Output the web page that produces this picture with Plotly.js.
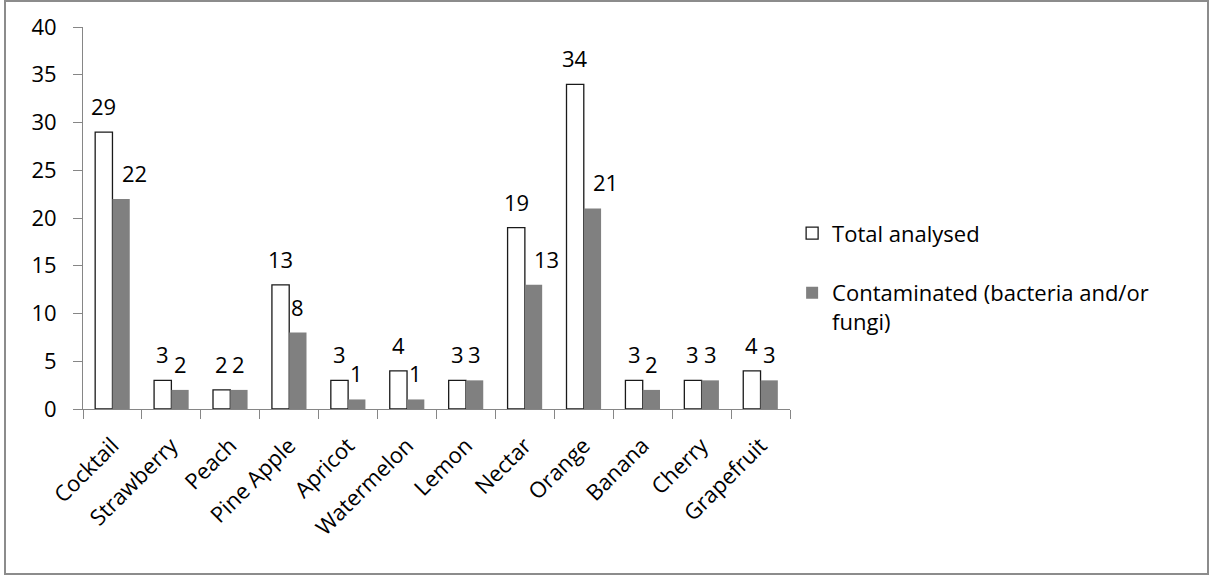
<!DOCTYPE html>
<html>
<head>
<meta charset="utf-8">
<script src="https://cdn.plot.ly/plotly-3.0.1.min.js"></script>
<style>
  html, body { margin: 0; padding: 0; background: #fff; }
  #chart { width: 1209px; height: 575px; }
  #frame { position: absolute; left: 4px; top: 0px; width: 1201px; height: 571px;
           border: 2px solid #8c8c8c; pointer-events: none; }
</style>
</head>
<body>
<div id="chart"></div>
<div id="frame"></div>
<script>
const categories = ["Cocktail","Strawberry","Peach","Pine Apple","Apricot","Watermelon","Lemon","Nectar","Orange","Banana","Cherry","Grapefruit"];
const totalAnalysed = [29,3,2,13,3,4,3,19,34,3,3,4];
const contaminated = [22,2,2,8,1,1,3,13,21,2,3,3];
const yTicks = [0,5,10,15,20,25,30,35,40];

const FONT = "Open Sans, Noto Sans, sans-serif";
const FS = 22;
const halfBar = 8.65;

const annotations = [];
categories.forEach((c, i) => {
  annotations.push({x: c, y: totalAnalysed[i], xref: 'x', yref: 'y', text: String(totalAnalysed[i]),
    showarrow: false, xanchor: 'center', yanchor: 'bottom', xshift: -halfBar, yshift: 9,
    font: {family: FONT, size: FS, color: '#000'}});
  annotations.push({x: c, y: contaminated[i], xref: 'x', yref: 'y', text: String(contaminated[i]),
    showarrow: false, xanchor: 'center', yanchor: 'bottom', xshift: halfBar + (contaminated[i] >= 10 ? 13 : 0), yshift: 9,
    font: {family: FONT, size: FS, color: '#000'}});
});

const traces = [
  {type: 'bar', name: 'Total analysed', x: categories, y: totalAnalysed, legendgroup: 'a',
   marker: {color: '#ffffff', line: {color: '#1a1a1a', width: 1.3}}, hoverinfo: 'x+y'},
  {type: 'bar', name: 'Contaminated (bacteria and/or<br>fungi)', x: categories, y: contaminated, legendgroup: 'b',
   marker: {color: '#808080', line: {width: 0}}, hoverinfo: 'x+y'}
];

const layout = {
  width: 1209, height: 575,
  margin: {l: 83, r: 419, t: 27, b: 166},
  paper_bgcolor: '#fff', plot_bgcolor: '#fff',
  barmode: 'group', bargap: 0.413, bargroupgap: 0,
  font: {family: FONT, size: FS, color: '#000'},
  showlegend: true,
  legend: {x: 1.003, xanchor: 'left', y: 0.515, yanchor: 'top', traceorder: 'grouped',
           tracegroupgap: 28, valign: 'top', font: {family: FONT, size: FS, color: '#000'},
           bgcolor: 'rgba(0,0,0,0)'},
  xaxis: {type: 'category', showline: true, linecolor: '#868686', linewidth: 1,
          ticks: 'outside', tickson: 'boundaries', ticklen: 9, tickcolor: '#868686',
          tickangle: -45, showgrid: false, zeroline: false, ticklabelstandoff: 14,
          tickfont: {family: FONT, size: FS, color: '#000'}},
  yaxis: {range: [0, 40], tickvals: yTicks, ticktext: yTicks.map(String), showline: true,
          linecolor: '#868686', linewidth: 1, ticks: 'outside', ticklen: 9, tickcolor: '#868686',
          showgrid: false, zeroline: false, ticklabelstandoff: 12,
          tickfont: {family: FONT, size: FS, color: '#000'}},
  annotations: annotations
};

Plotly.newPlot('chart', traces, layout, {displayModeBar: false, staticPlot: true});
</script>
</body>
</html>
